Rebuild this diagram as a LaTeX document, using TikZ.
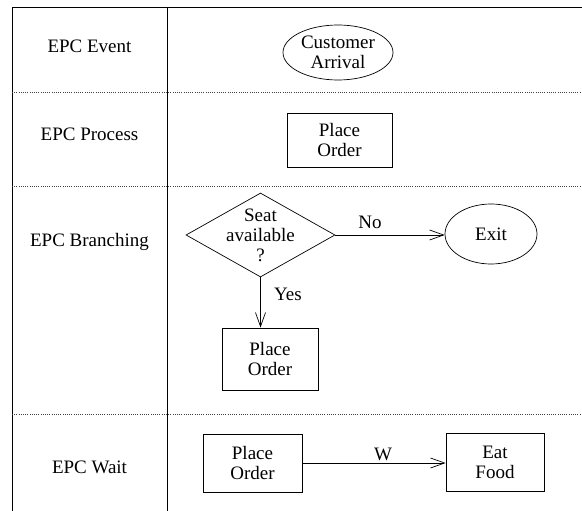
\documentclass[tikz,border=0pt]{standalone}
\usepackage{fontspec}
\setmainfont{Liberation Serif}
\usetikzlibrary{shapes.geometric,arrows.meta}
\begin{document}
\begin{tikzpicture}[x=1pt,y=-1pt,
  every node/.style={font=\fontsize{19}{20}\selectfont, inner sep=0pt, align=center},
  frameline/.style={line width=0.9pt, black},
  sepline/.style={line width=0.6pt, black!75, dash pattern=on 1pt off 1.2pt},
  rowlabel/.style={anchor=base},
  proc/.style={draw, rectangle, line width=0.8pt},
  evt/.style={draw, ellipse, line width=0.7pt},
  gate/.style={draw, diamond, line width=0.7pt},
  conn/.style={line width=0.8pt, -{Straight Barb[length=14pt,width=10pt,line width=0.7pt]}},
  edgelabel/.style={}
]
\useasboundingbox (0,0) rectangle (582,511);

% frame
\coordinate (tl) at (12,7);
\coordinate (tr) at (582,7);
\coordinate (bl) at (12,511);
\coordinate (dt) at (167,7);
\coordinate (db) at (167,511);
\draw[frameline] (bl) -- (tl) -- (tr);
\draw[frameline] (dt) -- (db);

% separators
\coordinate (s1l) at (12,92);  \coordinate (s1r) at (582,92);
\coordinate (s2l) at (12,186); \coordinate (s2r) at (582,186);
\coordinate (s3l) at (12,414); \coordinate (s3r) at (582,414);
\draw[sepline] (s1l) -- (s1r);
\draw[sepline] (s2l) -- (s2r);
\draw[sepline] (s3l) -- (s3r);

% row labels
\node[rowlabel] (l1) at (89.5,53) {EPC Event};
\node[rowlabel] (l2) at (89.5,141) {EPC Process};
\node[rowlabel] (l3) at (89.5,246) {EPC Branching};
\node[rowlabel] (l4) at (89.5,473) {EPC Wait};

% EPC Event
\node[evt, minimum width=110pt, minimum height=55pt] (ca) at (338,52.5) {Customer\\Arrival};

% EPC Process
\node[proc, minimum width=105pt, minimum height=54pt] (po1) at (339.5,140) {Place\\Order};

% EPC Branching
\node[gate, minimum width=149pt, minimum height=84pt] (seat) at (260.5,235) {};
\node (seattxt) at (seat) {Seat\\available\\?};
\node[evt, minimum width=92pt, minimum height=60pt] (exit) at (491,234) {Exit};
\node[proc, minimum width=96pt, minimum height=62pt] (po2) at (270,359) {Place\\Order};
\draw[conn] (seat.east) -- (seat.east -| exit.west);
\draw[conn] (seat.south) -- (seat.south |- po2.north);
\node[edgelabel] (no) at (370,222) {No};
\node[edgelabel] (yes) at (288,294) {Yes};

% EPC Wait
\node[proc, minimum width=99pt, minimum height=58pt] (po3) at (252.5,463) {Place\\Order};
\node[proc, minimum width=98pt, minimum height=58pt] (eat) at (495,462) {Eat\\Food};
\draw[conn] (po3.east) -- (po3.east -| eat.west);
\node[edgelabel] (w) at (383,454) {W};
\end{tikzpicture}
\end{document}
